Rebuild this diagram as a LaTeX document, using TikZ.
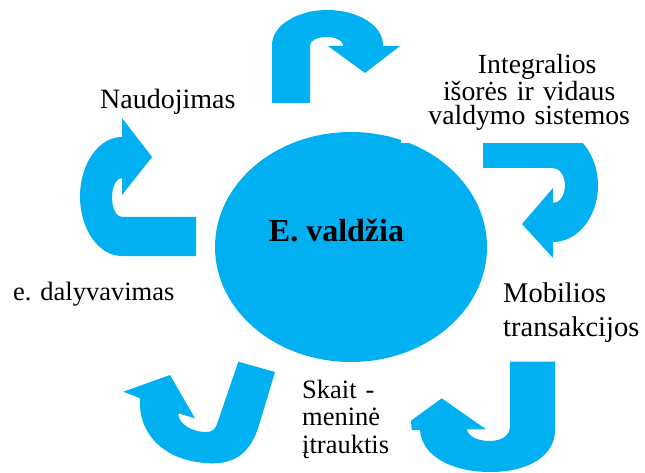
\documentclass[tikz,border=0pt]{standalone}
\usepackage{fontspec}
\setmainfont{Liberation Serif}
\usetikzlibrary{shapes.geometric}
\definecolor{arrowblue}{RGB}{0,176,240}
\begin{document}
\begin{tikzpicture}[x=1pt,y=-1pt,
  blueshape/.style={fill=arrowblue},
  lbl/.style={font=\fontsize{26.5}{27.5}\selectfont, inner sep=0pt},
  hubstyle/.style={ellipse, fill=arrowblue, minimum width=272pt, minimum height=230pt, inner sep=0pt}]
\useasboundingbox (0,0) rectangle (645,473);
% centre ellipse
\node (hub) [hubstyle] at (351,247) {};
\node (hubtext) [anchor=base, inner sep=0pt, font=\bfseries\fontsize{32}{34}\selectfont] at (336.5,241.7) {E. valdžia};
% top U-turn arrow
\fill[blueshape] (272,103) -- (272,45) arc[start angle=180, end angle=360, x radius=55.5, y radius=35]
  -- (383,46) -- (400,46) -- (365,73) -- (328,46) -- (343,46) -- (343,45)
  arc[start angle=360, end angle=180, x radius=16.5, y radius=8] -- (310,103) -- cycle;
% right U-turn arrow
\fill[blueshape] (483,129) -- (553,129) arc[start angle=-90, end angle=90, x radius=45, y radius=56.5]
  -- (553,258) -- (522,224) -- (553,188) -- (553,203)
  arc[start angle=90, end angle=-90, x radius=12, y radius=17.5] -- (483,168) -- cycle;
% left U-turn arrow
\fill[blueshape] (196,217) -- (122,217) arc[start angle=90, end angle=270, x radius=10, y radius=19.5]
  -- (122,195) -- (152,157) -- (122,118) -- (122,137)
  arc[start angle=270, end angle=90, x radius=42, y radius=59.5] -- (196,256) -- cycle;
% bottom-left arrow
\fill[blueshape] (123.3,391.7) -- (170,375) -- (195,418.3) -- (178.3,413.3)
  .. controls (178,425) and (195,433) .. (208,432)
  .. controls (212,431.5) and (215,429) .. (216.7,425)
  -- (238.3,361.7) -- (275,372) -- (260,422)
  .. controls (250,458) and (230,465) .. (205,463)
  .. controls (165,460) and (138,435) .. (140,398.3) -- cycle;
% bottom-right arrow
\fill[blueshape] (411.7,430) -- (411,420.7) -- (441.7,398.3) -- (486,429.3) -- (466.7,429.3)
  .. controls (469,438) and (480,441) .. (490,441)
  .. controls (502,441) and (510,435) .. (510,426.7)
  -- (510,361.7) -- (555,361.7) -- (555,430)
  .. controls (555,455) and (530,472) .. (490,472)
  .. controls (455,472) and (422,458) .. (420,430) -- cycle;
% labels
\node (integ) [anchor=south west, fill=white, inner sep=0pt, text width=256pt, minimum height=101pt, align=center,
  font=\fontsize{27.7}{24}\selectfont] at (401,143) {\hspace*{16pt}Integralios\\išorės ir vidaus\\valdymo sistemos};
\node (naud) [lbl, anchor=base west, font=\fontsize{28}{30}\selectfont] at (100,109) {Naudojimas};
\node (edal) [lbl, anchor=base west] at (13,300) {e. dalyvavimas};
\node (mob) [lbl, anchor=base west, text width=150pt, align=left, font=\fontsize{28.5}{34}\selectfont] at (503,302) {Mobilios\\transakcijos};
\node (skait) [lbl, anchor=base west, text width=100pt, align=left] at (302,398) {Skait -\\meninė\\įtrauktis};
\end{tikzpicture}
\end{document}
